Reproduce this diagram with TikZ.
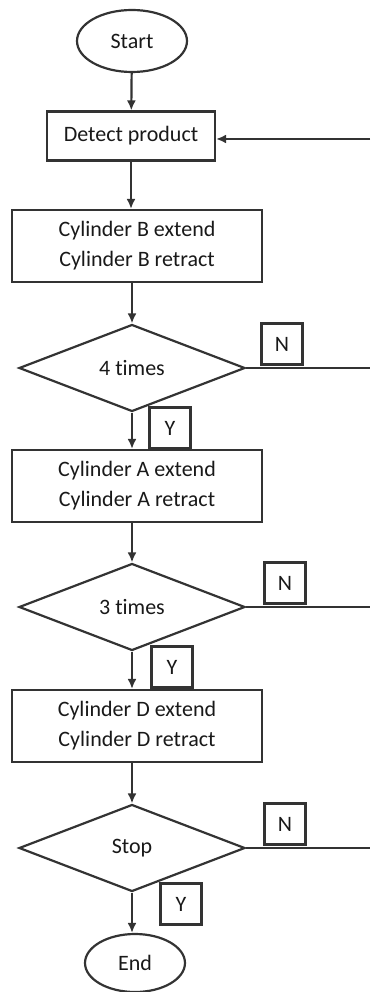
\documentclass[tikz,border=0pt]{standalone}
\usepackage{fontspec}
\setmainfont[Ligatures={NoCommon}]{Carlito}
\usetikzlibrary{shapes.geometric, positioning, calc, arrows.meta}
\tikzset{>={Latex[length=10pt,width=9pt]}}
\tikzset{font=\fontsize{22}{30}\selectfont}
\tikzset{
  process/.style={draw, rectangle, minimum width=250pt, minimum height=72pt,
    align=center, inner sep=0pt, text=black!90},
  decision/.style={draw, diamond, minimum width=226pt, minimum height=87pt,
    inner sep=0pt, text=black!90},
  terminal/.style={draw, ellipse, inner sep=0pt, text=black!90},
  answer/.style={draw, rectangle, minimum width=41pt, minimum height=41pt,
    inner sep=0pt, text=black!90}
}

\begin{document}
\begin{tikzpicture}[x=1pt, y=-1pt, line width=2.2pt, color=black!80]
  \useasboundingbox (0,0) rectangle (370,992);
  % main column
  \node[terminal, minimum width=110pt, minimum height=62pt] (start) at (132,41) {Start};
  \node[process, minimum width=168pt, minimum height=49pt] (detect) at (131,136) {Detect product};
  \node[process] (cylb) at (137,246) {Cylinder B extend\\Cylinder B retract};
  \node[decision] (four) at (132,368) {4 times};
  \node[process] (cyla) at (137,486) {Cylinder A extend\\Cylinder A retract};
  \node[decision] (three) at (132,607) {3 times};
  \node[process] (cyld) at (137,726) {Cylinder D extend\\Cylinder D retract};
  \node[decision] (stop) at (132,848) {Stop};
  \node[terminal, minimum width=100pt, minimum height=58pt] (end) at (135,963) {End};

  % Y and N labels
  \node[answer] (nfour) at (282,344) {N};
  \node[answer] (yfour) at (170,428) {Y};
  \node[answer] (nthree) at (285,583) {N};
  \node[answer] (ythree) at (172,667) {Y};
  \node[answer] (nstop) at (285,824) {N};
  \node[answer] (ystop) at (181,904) {Y};

  % loop ends at the right edge
  \coordinate (back) at (370,139);
  \coordinate (rfour) at (370,368);
  \coordinate (rthree) at (370,607);
  \coordinate (rstop) at (370,848);

  \draw[->] (start) -- (detect);
  \draw[->] (detect.south) -- (cylb.north -| detect.south);
  \draw[->] (four.north |- cylb.south) -- (four.north);
  \draw[->] (four.south) -- (cyla.north -| four.south);
  \draw[->] (three.north |- cyla.south) -- (three.north);
  \draw[->] (three.south) -- (cyld.north -| three.south);
  \draw[->] (stop.north |- cyld.south) -- (stop.north);
  \draw[->] (stop.south) -- (end.north -| stop.south);

  \draw (four.east) -- (rfour);
  \draw (three.east) -- (rthree);
  \draw (stop.east) -- (rstop);
  \draw[->] (back) -- (detect.east |- back);
\end{tikzpicture}
\end{document}
